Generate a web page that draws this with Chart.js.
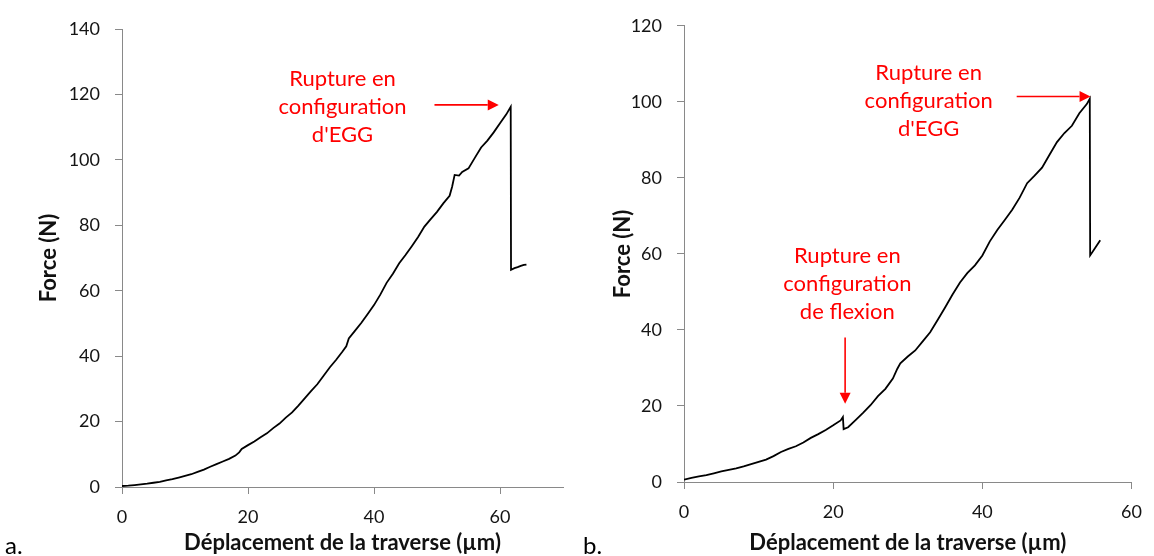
<!DOCTYPE html>
<html lang="fr">
<head>
<meta charset="utf-8">
<title>Force / déplacement de la traverse</title>
<script src="https://cdn.jsdelivr.net/npm/chart.js@4.4.1/dist/chart.umd.min.js"></script>
<style>
  html, body { margin: 0; padding: 0; background: #fff; }
  #page { position: relative; width: 1154px; height: 556px; overflow: hidden; background: #fff; }
  .panel { position: absolute; top: 0; width: 577px; height: 556px; }
  .tag { position: absolute; font-family: Lato, "Open Sans", sans-serif; font-size: 24px; color: #000; line-height: 1; }
</style>
</head>
<body>
<div id="page">
  <div class="panel" style="left:0"><canvas id="chartA" width="577" height="556"></canvas></div>
  <div class="panel" style="left:577px"><canvas id="chartB" width="577" height="556"></canvas></div>
  <div class="tag" style="left:5px; top:533px">a.</div>
  <div class="tag" style="left:583px; top:533px">b.</div>
</div>
<script>
// Essai a : déplacement de la traverse (µm) et force (N)
const dispA = [0, 1, 2, 3, 4, 5, 6, 7, 8, 9, 10, 11, 12, 13, 14, 15, 16, 17, 18, 18.6, 19, 20, 21, 22, 23, 24, 25, 26, 27, 28, 29, 30, 31, 32, 33, 34, 35, 35.6, 36, 37, 38, 39, 40, 41, 42, 43, 44, 45, 46, 47, 48, 49, 50, 51, 52, 52.4, 52.8, 53.5, 54, 55, 56, 57, 58, 59, 60, 61, 61.7, 61.75, 62.3, 62.8, 63.3, 63.8, 64.2];
const forceA = [0.3, 0.4, 0.6, 0.8, 1.0, 1.3, 1.6, 2.0, 2.4, 2.9, 3.4, 3.9, 4.6, 5.3, 6.2, 7.0, 7.8, 8.6, 9.6, 10.6, 11.6, 12.8, 13.9, 15.2, 16.4, 18.0, 19.4, 21.2, 22.8, 24.9, 27.1, 29.3, 31.4, 34.0, 36.6, 38.9, 41.4, 43.0, 45.4, 47.8, 50.2, 52.9, 55.6, 58.8, 62.4, 65.2, 68.4, 70.9, 73.6, 76.4, 79.6, 81.9, 84.1, 86.7, 89.0, 91.8, 95.4, 95.2, 96.3, 97.4, 100.6, 103.8, 105.9, 108.4, 111.2, 113.9, 116.2, 66.4, 66.9, 67.2, 67.6, 67.9, 68.0];

// Essai b
const dispB = [0, 1, 2, 3, 4, 5, 6, 7, 8, 9, 10, 11, 12, 13, 14, 15, 16, 17, 18, 19, 20, 21, 21.3, 21.4, 22, 23, 24, 25, 26, 27, 28, 28.6, 29, 30, 31, 32, 33, 34, 35, 36, 37, 38, 39, 40, 41, 42, 43, 44, 45, 46, 47, 48, 49, 50, 51, 52, 53, 54, 54.4, 54.45, 55, 55.8];
const forceB = [0.6, 1.1, 1.5, 1.8, 2.3, 2.8, 3.2, 3.6, 4.1, 4.7, 5.3, 5.9, 6.8, 7.9, 8.7, 9.4, 10.4, 11.6, 12.6, 13.7, 14.9, 16.2, 17.1, 13.9, 14.4, 16.3, 18.2, 20.2, 22.6, 24.5, 27.2, 29.8, 31.2, 33.0, 34.6, 37.0, 39.4, 42.6, 45.9, 49.3, 52.5, 55.0, 57.0, 59.6, 63.3, 66.3, 68.9, 71.6, 74.8, 78.6, 80.6, 82.7, 86.1, 89.4, 91.8, 93.7, 97.0, 99.4, 100.8, 59.6, 61.2, 63.6];

// Graduations des axes
const xTicksA = [0, 20, 40, 60];
const yTicksA = [0, 20, 40, 60, 80, 100, 120, 140];
const xTicksB = [0, 20, 40, 60];
const yTicksB = [0, 20, 40, 60, 80, 100, 120];

const xTitle = 'Déplacement de la traverse (µm)';
const yTitle = 'Force (N)';

// Annotations (coordonnées dans le repère des données)
const labelEggA = ['Rupture en', 'configuration', "d'EGG"];
const labelEggB = ['Rupture en', 'configuration', "d'EGG"];
const labelFlexB = ['Rupture en', 'configuration', 'de flexion'];

const notesA = {
  labels: [{ lines: labelEggA, x: 35.0, y: 116.2 }],
  arrows: [{ x1: 49.6, y1: 116.8, x2: 59.8, y2: 116.8 }]
};
const notesB = {
  labels: [
    { lines: labelEggB, x: 32.8, y: 100.3 },
    { lines: labelFlexB, x: 21.9, y: 52.1 }
  ],
  arrows: [
    { x1: 44.6, y1: 101.4, x2: 54.5, y2: 101.4 },
    { x1: 21.6, y1: 38.0, x2: 21.6, y2: 20.6 }
  ]
};

const FONT = 'Lato, "Open Sans", sans-serif';
const AXIS_GREY = '#898989';
const RED = '#ff0000';

// Texte rouge et flèches d'annotation
const notesPlugin = {
  id: 'notes',
  afterDatasetsDraw(chart, args, opts) {
    const { ctx } = chart;
    const sx = chart.scales.x, sy = chart.scales.y;
    ctx.save();
    ctx.fillStyle = RED;
    ctx.strokeStyle = RED;
    ctx.font = '22px ' + FONT;
    ctx.textAlign = 'center';
    ctx.textBaseline = 'middle';
    const lh = 28;
    (opts.labels || []).forEach(l => {
      const cx = sx.getPixelForValue(l.x);
      const cy = sy.getPixelForValue(l.y);
      const n = l.lines.length;
      l.lines.forEach((t, i) => ctx.fillText(t, cx, cy + (i - (n - 1) / 2) * lh));
    });
    ctx.lineWidth = 1.6;
    (opts.arrows || []).forEach(a => {
      const x1 = sx.getPixelForValue(a.x1), y1 = sy.getPixelForValue(a.y1);
      const x2 = sx.getPixelForValue(a.x2), y2 = sy.getPixelForValue(a.y2);
      const ang = Math.atan2(y2 - y1, x2 - x1);
      const head = 11, half = 5.5;
      const bx = x2 - head * Math.cos(ang), by = y2 - head * Math.sin(ang);
      ctx.beginPath();
      ctx.moveTo(x1, y1);
      ctx.lineTo(bx, by);
      ctx.stroke();
      ctx.beginPath();
      ctx.moveTo(x2, y2);
      ctx.lineTo(bx + half * Math.sin(ang), by - half * Math.cos(ang));
      ctx.lineTo(bx - half * Math.sin(ang), by + half * Math.cos(ang));
      ctx.closePath();
      ctx.fill();
    });
    ctx.restore();
  }
};

function makeChart(id, xs, ys, xMax, yMax, xTicks, yTicks, notes, geo) {
  const points = xs.map((x, i) => ({ x, y: ys[i] }));
  return new Chart(document.getElementById(id), {
    type: 'line',
    data: {
      datasets: [{
        data: points,
        borderColor: '#000',
        borderWidth: 1.8,
        pointRadius: 0,
        tension: 0,
        fill: false
      }]
    },
    options: {
      responsive: false,
      devicePixelRatio: 1,
      animation: false,
      events: [],
      layout: { padding: { top: geo.top, right: geo.right, bottom: 0, left: 0 } },
      plugins: {
        legend: { display: false },
        tooltip: { enabled: false },
        notes: notes
      },
      scales: {
        x: {
          type: 'linear',
          min: 0,
          max: xMax,
          afterBuildTicks: s => { s.ticks = xTicks.map(v => ({ value: v })); },
          afterFit: s => { s.height = geo.xHeight; },
          border: { display: true, color: AXIS_GREY, width: 1 },
          grid: { display: true, drawOnChartArea: false, drawTicks: true, tickLength: 7, tickColor: AXIS_GREY, color: AXIS_GREY },
          ticks: { color: '#141414', font: { family: FONT, size: 18 }, padding: 12, maxRotation: 0 },
          title: { display: true, text: xTitle, color: '#111', font: { family: FONT, size: 22, weight: 'bold' }, padding: { top: 0, bottom: 0 } }
        },
        y: {
          type: 'linear',
          min: 0,
          max: yMax,
          afterBuildTicks: s => { s.ticks = yTicks.map(v => ({ value: v })); },
          afterFit: s => { s.width = geo.yWidth; },
          border: { display: true, color: AXIS_GREY, width: 1 },
          grid: { display: true, drawOnChartArea: false, drawTicks: true, tickLength: 7, tickColor: AXIS_GREY, color: AXIS_GREY },
          ticks: { color: '#141414', font: { family: FONT, size: 18 }, padding: 15 },
          title: { display: true, text: yTitle, color: '#111', font: { family: FONT, size: 22, weight: 'bold' }, padding: { top: geo.yTitlePad, bottom: 0 } }
        }
      }
    },
    plugins: [notesPlugin]
  });
}

makeChart('chartA', dispA, forceA, 70, 140, xTicksA, yTicksA, notesA,
  { top: 29, right: 14, xHeight: 69, yWidth: 122, yTitlePad: 36 });
makeChart('chartB', dispB, forceB, 60, 120, xTicksB, yTicksB, notesB,
  { top: 24, right: 15, xHeight: 74, yWidth: 107, yTitlePad: 33 });
</script>
</body>
</html>
